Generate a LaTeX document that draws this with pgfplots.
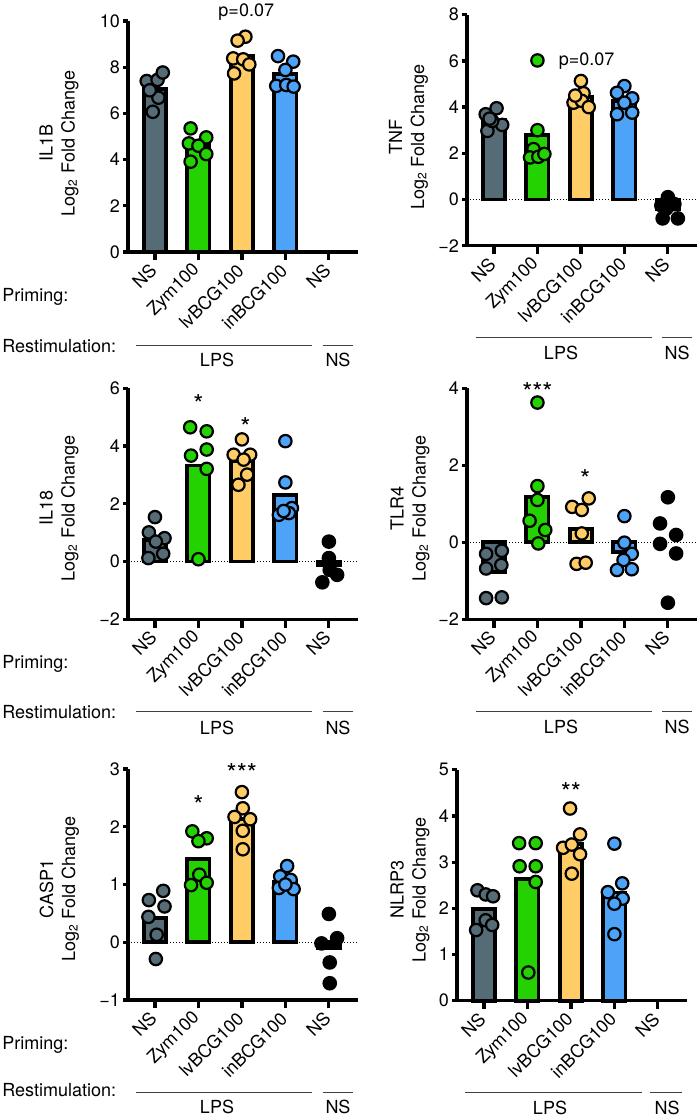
\documentclass[border=0pt]{standalone}
\usepackage{fontspec}
\setmainfont{TeX Gyre Heros}
\usepackage{pgfplots}
\pgfplotsset{compat=1.18}

\definecolor{cgray}{RGB}{85,107,117}
\definecolor{cgreen}{RGB}{35,210,0}
\definecolor{cyellow}{RGB}{255,204,102}
\definecolor{cblue}{RGB}{77,163,247}

\newcommand{\fnt}{\fontsize{9}{11}\selectfont}
\newcommand{\sfnt}{\fontsize{13}{14}\selectfont}

\pgfplotsset{
  panel/.style={
    scale only axis, width=115pt, height=115.5pt,
    anchor=south west,
    xmin=-0.62, xmax=4.67,
    axis lines*=left,
    axis line style={line width=1.6pt},
    tick align=outside,
    major tick length=2.3pt,
    every tick/.style={black, line width=1.6pt},
    xtick style={/pgfplots/major tick length=4.2pt},
    xtick={0,1,2,3,4},
    xticklabels={NS,Zym100,lvBCG100,inBCG100,NS},
    xticklabel style={rotate=45, anchor=east, inner sep=1pt},
    xticklabel shift=4.5pt,
    yticklabel style={inner sep=1.5pt},
    /pgf/number format/assume math mode=true,
    tick label style={font=\fnt},
    label style={font=\fnt},
    ylabel style={align=center, anchor=center},
    clip=false,
  },
  mbar/.style={ybar, bar width=11.1pt, bar shift=0pt, draw=black, line width=1.9pt, fill=#1},
  mpts/.style={only marks, mark=*, mark size=3.1pt, draw=black, line width=1.1pt, fill=#1},
}

\begin{document}
\begin{tikzpicture}
\path[use as bounding box] (0,0) rectangle (350pt,560pt);

% ---------- IL1B ----------
\begin{axis}[panel, at={(64pt,434pt)},
  ymin=0, ymax=10, ytick={0,2,4,6,8,10}, yticklabels={0,2,4,6,8,10},
  ylabel={IL1B\\Log\textsubscript{2} Fold Change},
  ylabel style={at={(axis description cs:-0.30,0.47)}}]
\addplot[mbar=cgray] coordinates {(0,7.06)};
\addplot[mbar=cgreen] coordinates {(1,4.63)};
\addplot[mbar=cyellow] coordinates {(2,8.51)};
\addplot[mbar=cblue] coordinates {(3,7.70)};
\addplot[mpts=cgray] coordinates {(-0.19,7.40) (0.06,7.45) (0.18,7.77) (0.08,6.68) (-0.05,6.07) (-0.12,7.00)};
\addplot[mpts=cgreen] coordinates {(0.82,5.35) (1.18,4.96) (0.78,4.70) (1.00,4.60) (1.18,4.24) (0.82,3.91)};
\addplot[mpts=cyellow] coordinates {(2.08,9.32) (1.90,9.15) (1.80,8.38) (2.03,8.34) (2.17,8.12) (1.82,7.73)};
\addplot[mpts=cblue] coordinates {(2.83,8.48) (3.18,8.24) (3.00,7.88) (2.79,7.19) (3.02,7.23) (3.19,7.16)};
\node[anchor=base, font=\fnt] at (axis cs:2.1,10.19) {p=0.07};
\end{axis}

% ---------- TNF ----------
\begin{axis}[panel, at={(233.5pt,437.15pt)},
  ymin=-2, ymax=8, ytick={-2,0,2,4,6,8}, yticklabels={−2,0,2,4,6,8},
  ylabel={TNF\\Log\textsubscript{2} Fold Change},
  ylabel style={at={(axis description cs:-0.254,0.47)}}]
\draw[densely dotted, line width=0.5pt] (axis cs:-0.62,0) -- (axis cs:4.67,0);
\addplot[mbar=cgray] coordinates {(0,3.45)};
\addplot[mbar=cgreen] coordinates {(1,2.78)};
\addplot[mbar=cyellow] coordinates {(2,4.42)};
\addplot[mbar=cblue] coordinates {(3,4.26)};
\addplot[mbar=black] coordinates {(4,-0.40)};
\addplot[mpts=cgray] coordinates {(-0.19,3.69) (0.06,3.95) (0.19,3.23) (-0.15,2.97) (-0.04,3.40) (-0.10,3.50)};
\addplot[mpts=cgreen] coordinates {(1.00,6.02) (1.00,3.00) (0.91,2.18) (0.83,1.82) (1.02,1.85) (1.16,1.97)};
\addplot[mpts=cyellow] coordinates {(2.00,5.13) (2.06,4.60) (1.83,4.19) (2.02,4.27) (2.18,4.00) (1.87,4.50)};
\addplot[mpts=cblue] coordinates {(3.00,4.91) (2.83,4.62) (3.18,4.38) (3.00,4.19) (2.83,3.69) (3.18,3.76)};
\addplot[mpts=black] coordinates {(4.00,0.10) (3.85,-0.26) (4.15,-0.20) (3.88,-0.82) (4.23,-0.82) (3.96,-0.40)};
\node[anchor=base, font=\fnt] at (axis cs:2.13,5.78) {p=0.07};
\end{axis}

% ---------- IL18 ----------
\begin{axis}[panel, at={(64pt,250.35pt)},
  ymin=-2, ymax=6, ytick={-2,0,2,4,6}, yticklabels={−2,0,2,4,6},
  ylabel={IL18\\Log\textsubscript{2} Fold Change},
  ylabel style={at={(axis description cs:-0.30,0.48)}}]
\draw[densely dotted, line width=0.5pt] (axis cs:-0.62,0) -- (axis cs:4.67,0);
\addplot[mbar=cgray] coordinates {(0,0.74)};
\addplot[mbar=cgreen] coordinates {(1,3.33)};
\addplot[mbar=cyellow] coordinates {(2,3.47)};
\addplot[mbar=cblue] coordinates {(3,2.30)};
\addplot[mbar=black] coordinates {(4,-0.13)};
\addplot[mpts=cgray] coordinates {(0.00,1.54) (-0.14,1.01) (0.22,0.81) (0.02,0.69) (0.19,0.27) (-0.15,0.12)};
\addplot[mpts=cgreen] coordinates {(0.81,4.65) (1.19,4.51) (1.19,3.88) (0.83,3.67) (1.19,3.21) (1.00,0.08)};
\addplot[mpts=cyellow] coordinates {(2.00,4.23) (1.81,3.70) (2.19,3.70) (2.04,3.53) (2.12,3.01) (1.92,2.66)};
\addplot[mpts=cblue] coordinates {(3.00,4.17) (3.00,2.74) (2.85,1.62) (3.15,1.85) (3.08,1.68) (2.96,1.75)};
\addplot[mpts=black] coordinates {(4.00,0.69) (4.00,0.12) (4.19,-0.46) (3.85,-0.72) (4.02,-0.29)};
\node[anchor=north, inner sep=0pt, font=\sfnt] at (axis cs:1.0,5.79) {*};
\node[anchor=north, inner sep=0pt, font=\sfnt] at (axis cs:2.08,5.0) {*};
\end{axis}

% ---------- TLR4 ----------
\begin{axis}[panel, at={(233.5pt,250.35pt)},
  ymin=-2, ymax=4, ytick={-2,0,2,4}, yticklabels={−2,0,2,4},
  ylabel={TLR4\\Log\textsubscript{2} Fold Change},
  ylabel style={at={(axis description cs:-0.248,0.48)}}]
\draw[densely dotted, line width=0.5pt] (axis cs:-0.62,0) -- (axis cs:4.67,0);
\addplot[mbar=cgray] coordinates {(0,-0.78)};
\addplot[mbar=cgreen] coordinates {(1,1.17)};
\addplot[mbar=cyellow] coordinates {(2,0.34)};
\addplot[mbar=cblue] coordinates {(3,-0.25)};
\addplot[mpts=cgray] coordinates {(-0.18,-0.30) (0.18,-0.22) (-0.18,-0.68) (0.17,-0.59) (-0.18,-1.45) (0.18,-1.43)};
\addplot[mpts=cgreen] coordinates {(1.00,3.63) (1.00,1.46) (1.00,1.10) (0.82,0.56) (1.18,0.32) (1.02,-0.03)};
\addplot[mpts=cyellow] coordinates {(2.18,1.14) (1.80,0.92) (2.02,0.84) (2.02,0.23) (1.90,-0.56) (2.11,-0.53)};
\addplot[mpts=cblue] coordinates {(3.00,0.68) (3.00,-0.01) (3.17,-0.30) (2.98,-0.46) (2.83,-0.72) (3.17,-0.70)};
\addplot[mpts=black] coordinates {(4.00,1.17) (3.82,0.49) (4.19,0.19) (3.82,-0.04) (4.19,-0.29) (4.00,-1.57)};
\node[anchor=north, inner sep=0pt, font=\sfnt] at (axis cs:1.0,4.17) {***};
\node[anchor=north, inner sep=0pt, font=\sfnt] at (axis cs:2.1,1.90) {*};
\end{axis}

% ---------- CASP1 ----------
\begin{axis}[panel, at={(64pt,60pt)},
  ymin=-1, ymax=3, ytick={-1,0,1,2,3}, yticklabels={−1,0,1,2,3},
  ylabel={CASP1\\Log\textsubscript{2} Fold Change},
  ylabel style={at={(axis description cs:-0.298,0.48)}}]
\draw[densely dotted, line width=0.5pt] (axis cs:-0.62,0) -- (axis cs:4.67,0);
\addplot[mbar=cgray] coordinates {(0,0.42)};
\addplot[mbar=cgreen] coordinates {(1,1.44)};
\addplot[mbar=cyellow] coordinates {(2,2.13)};
\addplot[mbar=cblue] coordinates {(3,1.05)};
\addplot[mbar=black] coordinates {(4,-0.10)};
\addplot[mpts=cgray] coordinates {(0.19,0.89) (-0.14,0.73) (0.22,0.62) (-0.15,0.44) (0.04,0.13) (0.02,-0.29)};
\addplot[mpts=cgreen] coordinates {(0.86,1.92) (1.19,1.80) (1.00,1.75) (1.02,1.17) (0.83,0.99) (1.19,1.03)};
\addplot[mpts=cyellow] coordinates {(2.00,2.60) (2.02,2.32) (1.83,2.17) (2.19,2.13) (2.02,1.93) (2.02,1.61)};
\addplot[mpts=cblue] coordinates {(3.04,1.32) (2.88,1.14) (3.12,1.08) (2.85,0.94) (3.19,0.92) (3.00,1.00)};
\addplot[mpts=black] coordinates {(4.00,0.49) (3.83,-0.02) (4.19,0.07) (4.02,-0.35) (4.02,-0.71)};
\node[anchor=north, inner sep=0pt, font=\sfnt] at (axis cs:1.0,2.54) {*};
\node[anchor=north, inner sep=0pt, font=\sfnt] at (axis cs:2.0,3.10) {***};
\end{axis}

% ---------- NLRP3 ----------
\begin{axis}[panel, at={(228.5pt,59.65pt)},
  ymin=0, ymax=5, ytick={0,1,2,3,4,5}, yticklabels={0,1,2,3,4,5},
  ylabel={NLRP3\\Log\textsubscript{2} Fold Change},
  ylabel style={at={(axis description cs:-0.204,0.48)}}]
\addplot[mbar=cgray] coordinates {(0,1.98)};
\addplot[mbar=cgreen] coordinates {(1,2.64)};
\addplot[mbar=cyellow] coordinates {(2,3.40)};
\addplot[mbar=cblue] coordinates {(3,2.34)};
\addplot[mpts=cgray] coordinates {(-0.15,2.39) (0.04,2.30) (0.21,2.26) (0.04,1.74) (-0.18,1.53) (0.19,1.64)};
\addplot[mpts=cgreen] coordinates {(0.81,3.41) (1.19,3.41) (0.82,2.91) (1.19,2.91) (1.19,2.57) (1.02,0.61)};
\addplot[mpts=cyellow] coordinates {(1.98,4.16) (2.21,3.60) (1.82,3.31) (2.02,3.38) (2.21,3.17) (2.02,2.75)};
\addplot[mpts=cblue] coordinates {(3.00,3.40) (3.18,2.54) (2.85,2.35) (3.19,2.21) (3.00,2.10) (3.00,1.44)};
\node[anchor=north, inner sep=0pt, font=\sfnt] at (axis cs:2.0,4.73) {**};
\end{axis}

% ---------- group labels (image pixel coordinates) ----------
\begin{scope}[x=0.5pt, y=-0.5pt, shift={(0pt,560pt)}, font=\fnt]
  \foreach \yp/\yr in {301.7/353, 668.3/719, 1050/1096} {
    \node[anchor=base west, inner sep=0pt] at (2,\yp) {Priming:};
    \node[anchor=base west, inner sep=0pt] at (2,\yr) {Restimulation:};
  }
  \foreach \yl/\yt in {346/366.7, 712/735, 1093/1113.3} {
    \draw[line width=0.5pt, black!75] (136,\yl) -- (312,\yl);
    \draw[line width=0.5pt, black!75] (323,\yl) -- (353,\yl);
    \node[anchor=base, inner sep=0pt] at (217,\yt) {LPS};
    \node[anchor=base, inner sep=0pt] at (338,\yt) {NS};
  }
  \foreach \yl/\yt in {338/359.3, 712/734} {
    \draw[line width=0.5pt, black!75] (476,\yl) -- (652,\yl);
    \draw[line width=0.5pt, black!75] (662,\yl) -- (692,\yl);
    \node[anchor=base, inner sep=0pt] at (561,\yt) {LPS};
    \node[anchor=base, inner sep=0pt] at (677,\yt) {NS};
  }
  \draw[line width=0.5pt, black!75] (465,1093) -- (642,1093);
  \draw[line width=0.5pt, black!75] (650,1093) -- (682,1093);
  \node[anchor=base, inner sep=0pt] at (550,1115) {LPS};
  \node[anchor=base, inner sep=0pt] at (667,1115) {NS};
\end{scope}
\end{tikzpicture}
\end{document}
